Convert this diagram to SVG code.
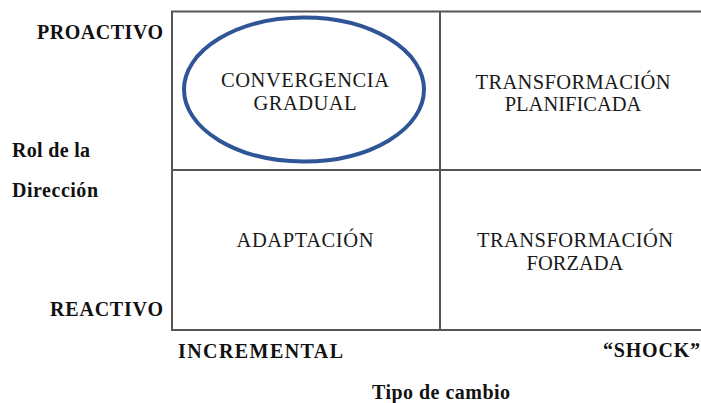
<svg xmlns="http://www.w3.org/2000/svg" width="701" height="403" viewBox="0 0 701 403">
<style>
.cell{font-family:"Liberation Serif","Times New Roman",serif;font-size:20.5px;fill:#1a1a1a;text-anchor:middle}
.lab{font-family:"Liberation Serif","Times New Roman",serif;font-size:20px;font-weight:bold;fill:#111}
.grid{stroke:#555;stroke-width:2;fill:none}
</style>
<rect width="701" height="403" fill="#fff"/>
<g id="grid" class="grid">
<path d="M172 11.5H701M172 170H701M172 330H701M172 10.5V331M440 10.5V331"/>
</g>
<g id="convergencia">
<ellipse cx="304" cy="89.5" rx="120" ry="72" fill="none" stroke="#2F5597" stroke-width="4"/>
<text class="cell" x="305" y="87" textLength="168" lengthAdjust="spacing">CONVERGENCIA</text>
<text class="cell" x="305" y="110" textLength="103" lengthAdjust="spacing">GRADUAL</text>
</g>
<g id="planificada">
<text class="cell" x="573" y="89" textLength="195" lengthAdjust="spacing">TRANSFORMACIÓN</text>
<text class="cell" x="573" y="111">PLANIFICADA</text>
</g>
<g id="adaptacion">
<text class="cell" x="305" y="247" textLength="137" lengthAdjust="spacing">ADAPTACIÓN</text>
</g>
<g id="forzada">
<text class="cell" x="575" y="247" textLength="196" lengthAdjust="spacing">TRANSFORMACIÓN</text>
<text class="cell" x="575" y="270">FORZADA</text>
</g>
<g id="labels">
<text class="lab" x="37" y="39" textLength="126" lengthAdjust="spacing">PROACTIVO</text>
<text class="lab" x="50" y="316" textLength="113" lengthAdjust="spacing">REACTIVO</text>
<text class="lab" x="12" y="157" textLength="78" lengthAdjust="spacing">Rol de la</text>
<text class="lab" x="12" y="197" textLength="86" lengthAdjust="spacing">Dirección</text>
<text class="lab" x="178" y="358" textLength="165" lengthAdjust="spacing">INCREMENTAL</text>
<text class="lab" x="603" y="357" textLength="97" lengthAdjust="spacing">“SHOCK”</text>
<text class="lab" x="372" y="399" textLength="138" lengthAdjust="spacing">Tipo de cambio</text>
</g>
</svg>
